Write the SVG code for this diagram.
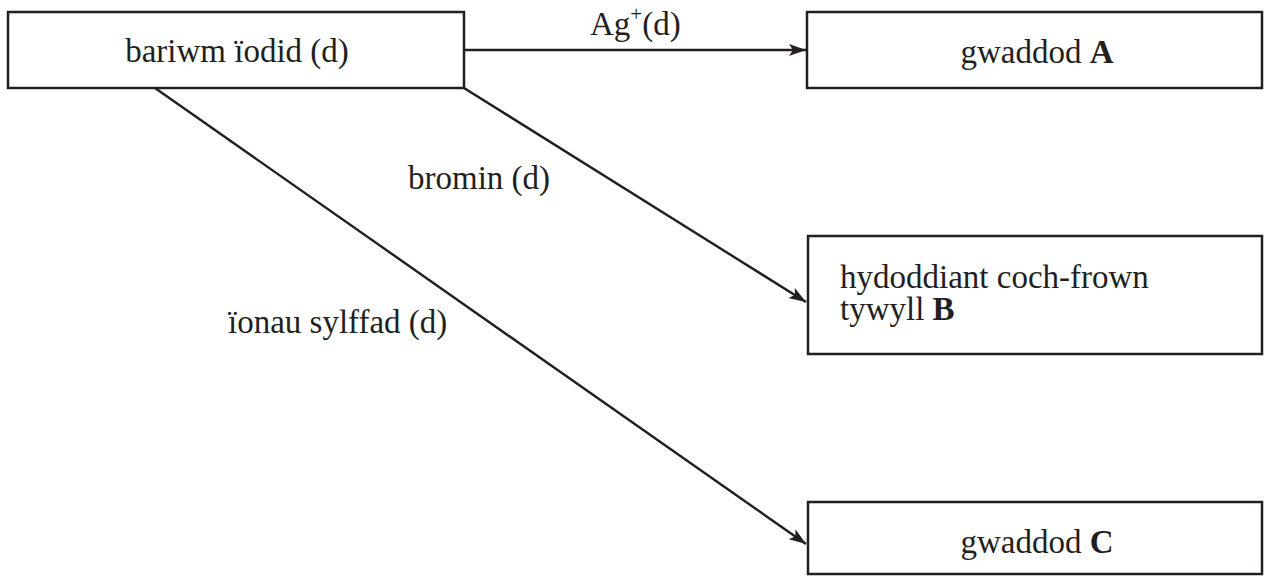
<svg xmlns="http://www.w3.org/2000/svg" width="1264" height="576" viewBox="0 0 1264 576">
<style>
.box{fill:#fff;stroke:#231f20;stroke-width:2.5}
.t{font-family:"Liberation Serif","Times New Roman",serif;font-size:33px;fill:#231f20}
.c{stroke:#231f20;stroke-width:2.4;fill:none}
</style>
<defs>
<marker id="ah" viewBox="0 0 17 12" refX="17" refY="6" markerWidth="17" markerHeight="12" markerUnits="userSpaceOnUse" orient="auto">
<path d="M0,0 L17,6 L0,12 L4,6 Z" fill="#231f20"/>
</marker>
</defs>
<rect width="1264" height="576" fill="#fff"/>
<g id="connectors">
<line class="c" x1="464" y1="50" x2="806" y2="50" marker-end="url(#ah)"/>
<line class="c" x1="464" y1="88" x2="806" y2="302" marker-end="url(#ah)"/>
<line class="c" x1="155" y1="88" x2="806" y2="544" marker-end="url(#ah)"/>
<text class="t" x="590" y="35">Ag<tspan font-size="21" dy="-14">+</tspan><tspan dy="14">(d)</tspan></text>
<text class="t" x="408" y="189">bromin (d)</text>
<text class="t" x="228" y="333">ïonau sylffad (d)</text>
</g>
<g id="node-bariwm">
<rect class="box" x="8" y="12" width="456" height="76"/>
<text class="t" x="237" y="62" text-anchor="middle">bariwm ïodid (d)</text>
</g>
<g id="node-A">
<rect class="box" x="807" y="12" width="455" height="76"/>
<text class="t" x="1037" y="63" text-anchor="middle">gwaddod <tspan font-weight="bold">A</tspan></text>
</g>
<g id="node-B">
<rect class="box" x="808" y="236" width="454" height="118"/>
<text class="t" x="840" y="288">hydoddiant coch-frown</text>
<text class="t" x="840" y="320">tywyll <tspan font-weight="bold">B</tspan></text>
</g>
<g id="node-C">
<rect class="box" x="808" y="502" width="454" height="72"/>
<text class="t" x="1037" y="553" text-anchor="middle">gwaddod <tspan font-weight="bold">C</tspan></text>
</g>
</svg>
